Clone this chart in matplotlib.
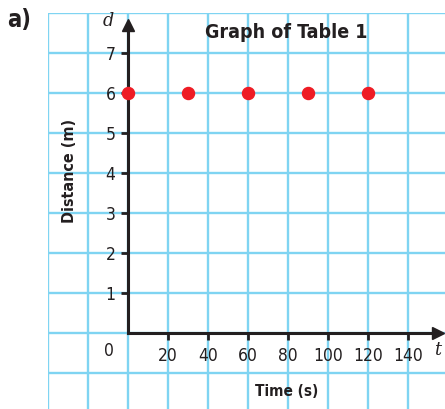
import matplotlib.pyplot as plt
from matplotlib.ticker import MultipleLocator

# data
time_s = [0, 30, 60, 90, 120]
distance_m = [6, 6, 6, 6, 6]
x_ticks = [20, 40, 60, 80, 100, 120, 140]
y_ticks = [1, 2, 3, 4, 5, 6, 7]

plt.rcParams['font.family'] = ['DejaVu Sans']
plt.rcParams['font.stretch'] = 'condensed'

grid_blue = '#7fd4f2'
ink = '#231f20'

fig = plt.figure(figsize=(4.45, 4.09), dpi=100)
ax = fig.add_axes([48/445, 0, 397/445, 396/409])
ax.set_xlim(-40, 158.5)
ax.set_ylim(-1.9, 8)

# axes through the origin
for side in ['top', 'right']:
    ax.spines[side].set_visible(False)
ax.spines['left'].set_position(('data', 0))
ax.spines['bottom'].set_position(('data', 0))
ax.spines['left'].set_bounds(0, 7.7)
ax.spines['bottom'].set_bounds(0, 155)
for side in ['left', 'bottom']:
    ax.spines[side].set_linewidth(2.2)
    ax.spines[side].set_color(ink)
    ax.spines[side].set_zorder(3)

ax.set_xticks(x_ticks)
ax.set_yticks(y_ticks)
ax.xaxis.set_minor_locator(MultipleLocator(20))
ax.yaxis.set_minor_locator(MultipleLocator(1))
ax.tick_params(which='major', direction='out', length=5, width=2, color=ink,
               labelsize=12.5, labelcolor=ink, pad=4)
ax.tick_params(axis='x', which='major', pad=5)
ax.tick_params(which='minor', length=0)
ax.set_axisbelow(True)
ax.grid(which='both', color=grid_blue, linewidth=1.7)

# arrow heads
ax.plot(155, 0, '>', color=ink, markersize=9, clip_on=False, zorder=4)
ax.plot(0, 7.7, '^', color=ink, markersize=9, clip_on=False, zorder=4)

ax.scatter(time_s, distance_m, s=75, color='#ee1c25', zorder=5, clip_on=False)

ax.text(-9.3, -0.45, '0', fontsize=12.5, color=ink, ha='center', va='center')
ax.text(-10, 7.8, 'd', fontsize=14, style='italic', family='DejaVu Serif',
        color=ink, ha='center', va='center')
ax.text(155, -0.42, 't', fontsize=14, style='italic', family='DejaVu Serif',
        color=ink, ha='center', va='center')
ax.text(79, 7.5, 'Graph of Table 1', fontsize=14, fontweight='bold',
        color=ink, ha='center', va='center')
ax.text(-29, 4.05, 'Distance (m)', fontsize=11.5, fontweight='bold', rotation=90,
        color=ink, ha='center', va='center')
ax.text(79.5, -1.45, 'Time (s)', fontsize=11, fontweight='bold',
        color=ink, ha='center', va='center')
fig.text(19/445, 1 - 20/409, 'a)', fontsize=17, fontweight='bold',
         color=ink, ha='center', va='center')

fig.savefig('out.png', dpi=100)
